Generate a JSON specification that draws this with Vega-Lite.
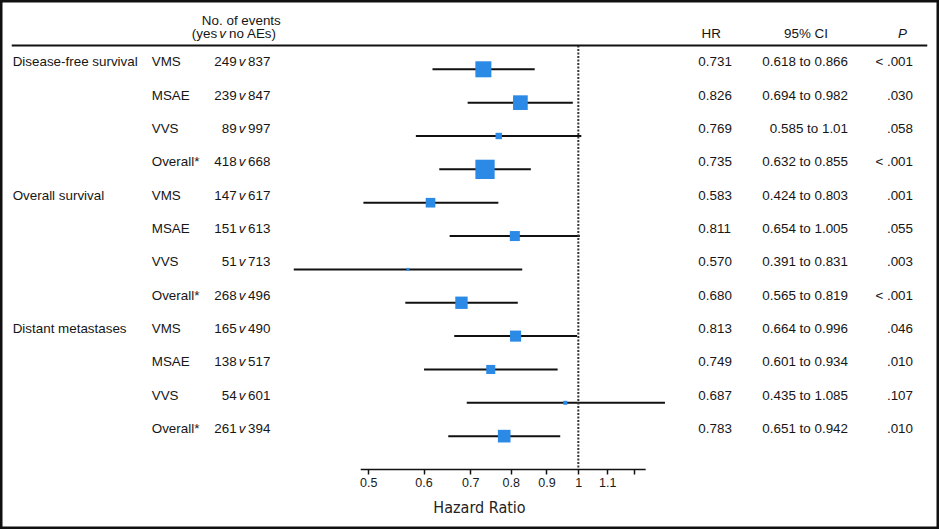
{
  "$schema": "https://vega.github.io/schema/vega-lite/v6.json",
  "width": 939,
  "height": 529,
  "autosize": {"type": "fit", "contains": "padding"},
  "padding": 0,
  "background": "white",
  "config": {
    "view": {"stroke": "#111111", "strokeWidth": 5},
    "font": "Liberation Sans",
    "text": {"font": "Liberation Sans", "fontSize": 13.4, "color": "#161616", "baseline": "middle"}
  },
  "datasets": {
    "rows": [
      {"row": 1, "group": "Disease-free survival", "sub": "VMS", "n1": "249", "n2": "837", "est": 0.731, "lo": 0.618, "hi": 0.866, "w": 69, "hr_txt": "0.731", "ci_txt": "0.618 to 0.866", "p_txt": "< .001"},
      {"row": 2, "group": "", "sub": "MSAE", "n1": "239", "n2": "847", "est": 0.826, "lo": 0.694, "hi": 0.982, "w": 58, "hr_txt": "0.826", "ci_txt": "0.694 to 0.982", "p_txt": ".030"},
      {"row": 3, "group": "", "sub": "VVS", "n1": "89", "n2": "997", "est": 0.769, "lo": 0.585, "hi": 1.01, "w": 11, "hr_txt": "0.769", "ci_txt": "0.585 to 1.01", "p_txt": ".058"},
      {"row": 4, "group": "", "sub": "Overall*", "n1": "418", "n2": "668", "est": 0.735, "lo": 0.632, "hi": 0.855, "w": 100, "hr_txt": "0.735", "ci_txt": "0.632 to 0.855", "p_txt": "< .001"},
      {"row": 5, "group": "Overall survival", "sub": "VMS", "n1": "147", "n2": "617", "est": 0.614, "lo": 0.492, "hi": 0.768, "w": 25, "hr_txt": "0.583", "ci_txt": "0.424 to 0.803", "p_txt": ".001"},
      {"row": 6, "group": "", "sub": "MSAE", "n1": "151", "n2": "613", "est": 0.811, "lo": 0.654, "hi": 1.005, "w": 27, "hr_txt": "0.811", "ci_txt": "0.654 to 1.005", "p_txt": ".055"},
      {"row": 7, "group": "", "sub": "VVS", "n1": "51", "n2": "713", "est": 0.57, "lo": 0.391, "hi": 0.831, "w": 2.4, "hr_txt": "0.570", "ci_txt": "0.391 to 0.831", "p_txt": ".003"},
      {"row": 8, "group": "", "sub": "Overall*", "n1": "268", "n2": "496", "est": 0.68, "lo": 0.565, "hi": 0.819, "w": 41, "hr_txt": "0.680", "ci_txt": "0.565 to 0.819", "p_txt": "< .001"},
      {"row": 9, "group": "Distant metastases", "sub": "VMS", "n1": "165", "n2": "490", "est": 0.813, "lo": 0.664, "hi": 0.996, "w": 33, "hr_txt": "0.813", "ci_txt": "0.664 to 0.996", "p_txt": ".046"},
      {"row": 10, "group": "", "sub": "MSAE", "n1": "138", "n2": "517", "est": 0.749, "lo": 0.601, "hi": 0.934, "w": 22, "hr_txt": "0.749", "ci_txt": "0.601 to 0.934", "p_txt": ".010"},
      {"row": 11, "group": "", "sub": "VVS", "n1": "54", "n2": "601", "est": 0.958, "lo": 0.692, "hi": 1.331, "w": 4.3, "hr_txt": "0.687", "ci_txt": "0.435 to 1.085", "p_txt": ".107"},
      {"row": 12, "group": "", "sub": "Overall*", "n1": "261", "n2": "394", "est": 0.783, "lo": 0.651, "hi": 0.942, "w": 43, "hr_txt": "0.783", "ci_txt": "0.651 to 0.942", "p_txt": ".010"}
    ]
  },
  "data": {"name": "rows"},
  "resolve": {"scale": {"x": "independent"}},
  "layer": [
    {
      "layer": [
        {
          "mark": {"type": "rule", "color": "#111111", "strokeWidth": 2},
          "encoding": {
            "x": {
              "field": "lo", "type": "quantitative",
              "scale": {"type": "log", "domain": [0.1483, 3.288], "nice": false},
              "axis": {
                "values": [0.5, 0.6, 0.7, 0.8, 0.9, 1, 1.1, 1.2],
                "format": ".2~f",
                "labelExpr": "datum.value > 1.15 ? '' : datum.label",
                "domain": false, "grid": false,
                "ticks": true, "tickColor": "#111111", "tickWidth": 1.5, "tickSize": 5,
                "labelFont": "Liberation Sans", "labelFontSize": 12.5, "labelColor": "#1a1a1a", "labelPadding": 2,
                "labelFlush": false, "labelOverlap": false, "labelBound": false,
                "offset": -60,
                "title": "Hazard Ratio",
                "titleFont": "DejaVu Sans Condensed, Liberation Sans", "titleFontSize": 16, "titleFontWeight": "normal", "titleColor": "#222222",
                "titleX": 479, "titleY": 38, "titleBaseline": "middle", "titleAlign": "center"
              }
            },
            "x2": {"field": "hi"},
            "y": {"field": "row", "type": "quantitative", "scale": {"domain": [-1.078, 14.784], "reverse": true, "nice": false, "zero": false}, "axis": null}
          }
        },
        {
          "data": {"values": [{}]},
          "mark": {"type": "rule", "color": "#333333", "strokeWidth": 2, "strokeDash": [2, 1.5]},
          "encoding": {
            "x": {"datum": 1, "type": "quantitative"},
            "y": {"datum": 0.29, "type": "quantitative"},
            "y2": {"datum": 13}
          }
        },
        {
          "data": {"values": [{}]},
          "mark": {"type": "rule", "color": "#111111", "strokeWidth": 1.5},
          "encoding": {
            "x": {"datum": 0.4877, "type": "quantitative"},
            "x2": {"datum": 1.249},
            "y": {"datum": 13, "type": "quantitative"}
          }
        },
        {
          "mark": {"type": "square", "filled": true, "opacity": 1, "color": "#2a8ae6"},
          "encoding": {
            "x": {"field": "est", "type": "quantitative"},
            "y": {"field": "row", "type": "quantitative"},
            "size": {"field": "w", "type": "quantitative", "scale": {"domain": [0, 100], "range": [0, 372], "zero": true}, "legend": null}
          }
        }
      ]
    },
    {
      "layer": [
        {
          "mark": {"type": "text", "align": "left", "dy": -7},
          "encoding": {
            "x": {"datum": 1.35, "type": "quantitative", "scale": {"domain": [0, 100], "nice": false, "zero": false}, "axis": null},
            "y": {"field": "row", "type": "quantitative", "axis": null},
            "text": {"field": "group"}
          }
        },
        {
          "mark": {"type": "text", "align": "left", "dy": -7},
          "encoding": {
            "x": {"datum": 16.16, "type": "quantitative"},
            "y": {"field": "row", "type": "quantitative"},
            "text": {"field": "sub"}
          }
        },
        {
          "mark": {"type": "text", "align": "right", "dy": -7},
          "encoding": {
            "x": {"datum": 25.2, "type": "quantitative"},
            "y": {"field": "row", "type": "quantitative"},
            "text": {"field": "n1"}
          }
        },
        {
          "mark": {"type": "text", "align": "center", "dy": -7, "fontStyle": "italic"},
          "encoding": {
            "x": {"datum": 25.77, "type": "quantitative"},
            "y": {"field": "row", "type": "quantitative"},
            "text": {"value": "v"}
          }
        },
        {
          "mark": {"type": "text", "align": "left", "dy": -7},
          "encoding": {
            "x": {"datum": 26.42, "type": "quantitative"},
            "y": {"field": "row", "type": "quantitative"},
            "text": {"field": "n2"}
          }
        },
        {
          "mark": {"type": "text", "align": "left", "dy": -7},
          "encoding": {
            "x": {"datum": 74.37, "type": "quantitative"},
            "y": {"field": "row", "type": "quantitative"},
            "text": {"field": "hr_txt"}
          }
        },
        {
          "mark": {"type": "text", "align": "right", "dy": -7},
          "encoding": {
            "x": {"datum": 90.31, "type": "quantitative"},
            "y": {"field": "row", "type": "quantitative"},
            "text": {"field": "ci_txt"}
          }
        },
        {
          "mark": {"type": "text", "align": "right", "dy": -7},
          "encoding": {
            "x": {"datum": 97.23, "type": "quantitative"},
            "y": {"field": "row", "type": "quantitative"},
            "text": {"field": "p_txt"}
          }
        },
        {
          "data": {"values": [{}]},
          "mark": {"type": "rule", "color": "#111111", "strokeWidth": 2},
          "encoding": {
            "x": {"datum": 1.25, "type": "quantitative"},
            "x2": {"datum": 98.75},
            "y": {"datum": 0.29, "type": "quantitative"}
          }
        },
        {
          "data": {"values": [{}]},
          "mark": {"type": "text", "align": "center", "dy": -15},
          "encoding": {
            "x": {"datum": 25.7, "type": "quantitative"},
            "y": {"datum": 0, "type": "quantitative"},
            "text": {"value": "No. of events"}
          }
        },
        {
          "data": {"values": [{}]},
          "mark": {"type": "text", "align": "right", "dy": -1.5},
          "encoding": {
            "x": {"datum": 23.12, "type": "quantitative"},
            "y": {"datum": 0, "type": "quantitative"},
            "text": {"value": "(yes"}
          }
        },
        {
          "data": {"values": [{}]},
          "mark": {"type": "text", "align": "center", "dy": -1.5, "fontStyle": "italic"},
          "encoding": {
            "x": {"datum": 23.7, "type": "quantitative"},
            "y": {"datum": 0, "type": "quantitative"},
            "text": {"value": "v"}
          }
        },
        {
          "data": {"values": [{}]},
          "mark": {"type": "text", "align": "left", "dy": -1.5},
          "encoding": {
            "x": {"datum": 24.4, "type": "quantitative"},
            "y": {"datum": 0, "type": "quantitative"},
            "text": {"value": "no AEs)"}
          }
        },
        {
          "data": {"values": [{}]},
          "mark": {"type": "text", "align": "center", "dy": -1.5},
          "encoding": {
            "x": {"datum": 75.75, "type": "quantitative"},
            "y": {"datum": 0, "type": "quantitative"},
            "text": {"value": "HR"}
          }
        },
        {
          "data": {"values": [{}]},
          "mark": {"type": "text", "align": "center", "dy": -1.5},
          "encoding": {
            "x": {"datum": 85.84, "type": "quantitative"},
            "y": {"datum": 0, "type": "quantitative"},
            "text": {"value": "95% CI"}
          }
        },
        {
          "data": {"values": [{}]},
          "mark": {"type": "text", "align": "center", "dy": -1.5, "fontStyle": "italic"},
          "encoding": {
            "x": {"datum": 96.11, "type": "quantitative"},
            "y": {"datum": 0, "type": "quantitative"},
            "text": {"value": "P"}
          }
        }
      ]
    }
  ]
}
